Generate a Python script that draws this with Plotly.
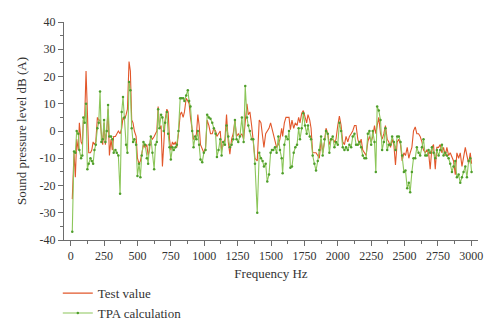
import plotly.graph_objects as go

freq = [12, 25, 35, 45, 57, 65, 78, 87, 95, 105, 115, 125, 135, 148, 158, 168, 178, 188, 200, 210,
        220, 230, 240, 250, 260, 270, 280, 290, 302, 312, 322, 335, 345, 357, 370, 382, 392, 402, 415, 425,
        437, 447, 457, 467, 477, 490, 500, 512, 522, 532, 545, 557, 570, 580, 590, 600, 612, 625, 635, 645,
        655, 665, 677, 687, 697, 707, 720, 730, 740, 750, 762, 772, 785, 795, 807, 820, 830, 842, 852, 865,
        877, 887, 897, 910, 920, 932, 942, 952, 962, 972, 985, 997, 1010, 1022, 1035, 1047, 1060, 1072, 1085, 1095,
        1107, 1120, 1130, 1142, 1155, 1167, 1180, 1192, 1205, 1217, 1230, 1242, 1255, 1267, 1282, 1295, 1307, 1320, 1330, 1342,
        1355, 1367, 1380, 1397, 1412, 1425, 1437, 1447, 1460, 1472, 1485, 1497, 1507, 1517, 1530, 1542, 1555, 1567, 1580, 1587,
        1600, 1612, 1625, 1635, 1645, 1657, 1670, 1682, 1695, 1707, 1717, 1730, 1742, 1755, 1767, 1777, 1790, 1800, 1812, 1825,
        1837, 1850, 1862, 1875, 1887, 1900, 1912, 1925, 1937, 1950, 1962, 1975, 1987, 2000, 2012, 2025, 2037, 2050, 2062, 2075,
        2087, 2100, 2112, 2125, 2137, 2150, 2162, 2175, 2187, 2200, 2212, 2225, 2237, 2250, 2262, 2275, 2285, 2295, 2307, 2320,
        2332, 2345, 2357, 2370, 2382, 2395, 2407, 2420, 2432, 2445, 2457, 2470, 2482, 2495, 2507, 2520, 2532, 2542, 2555, 2567,
        2580, 2592, 2605, 2617, 2630, 2642, 2655, 2667, 2680, 2692, 2705, 2717, 2730, 2742, 2755, 2767, 2780, 2792, 2805, 2817,
        2830, 2842, 2855, 2867, 2880, 2892, 2905, 2917, 2930, 2942, 2955, 2967, 2980, 2992, 3002]

test_value = [-25, -8, -17, -3, -7, 3, -4, -5, 4, 5, 22, 5, -8, -8, -7, -4, -5, -4, 5, 4,
              4, -1, -5, 3, -5, 0, 8, -9, -3, -7, -2, -2, -1, 0, -1, 1, 5, 4, 6, 8,
              25.5, 22, 4, 3, 0, -2, -10, -12, -11, -8, -5, -6, -5, -9, -7, -2, -3, -2, -1, 0,
              9, 1, 2, -13, -5, 4, 8, 7, -3, -7, -4, -5, -4, -6, -1, 6, 7, 5, 7, 12,
              11, 10, 5, 1, -3, -3, -1, 6, 2, -5, -7, -8, -6, 4, 2, -1, -1, 1, 0, -2,
              -1, 0, -7, -5, -3, 6, -4, -8.5, -3, -1, 4, -2, -1, -2, -1, -3, 5, 10, 6, 7,
              2, -4, -10, -11, 4, 3, -2, -6, -1, 0, 1, 3, 1, -1, -3, -6, -5, -3, 1, -2,
              3, 5, 5, 5, 0.5, 4, 1, 3, 2, 5, 3, 6.5, 7.5, 5, 3, 6, 4, 1, -8, -8,
              -8, -9, -10, -3, -8, -4, 1, -1, -5, -3, -3, -4, -3, 2, 5.5, 2, -4, -5, -2, -4,
              -2, -1, 0, 2, 2, -3, -5, -3, -7, -8, -9, -4, -2, -4, -2, 2, -1, 2, 5, -1,
              -3, -1, 2, -3, -4, -6, -3, -5, -12.5, -4, -3, -5, -11, -8, -9, -6, -10, -8, -6, 0,
              1.5, -1, -1, -2, -4, -7, -8, -7, -8, -14, -6, -5, -14, -6, -6, -5, -8, -6, -9, -6,
              -9, -8, -10, -11, -16, -8, -10, -8, -13, -10, -6, -9, -12, -8, -12]

tpa_calc = [-37, -7.5, -8, 0, -1, -7, -10, -9, 5, 3, 10, -14, -12, -10, -11, -12, -7, -5, 1, 3,
            14.5, -4, -3, 4, -4, 0, 9.5, -2, -2, -3, -8, -7, -8, -9, -23, 7, 12.5, 5, -5, -8,
            18, 15, 1, -4, -3, -5, -16.5, -12, -17, -9, -4, -5, -10, -12, -5, -2, -8, -14, -5, -4,
            8, 1, 6, 5, 0, 3, 7, -1, -6, -10.5, -6, -7, -6, -5, 0, 12, 12, 12, 11, 13,
            15, 11, 9, 0, -6, -2, -3, 0, -5, -10.5, -11.5, -8, -7, 6, 5, 4.5, 3, 1, -1, -9.5,
            -7, -3, -9, -4, -5, 2, -2, -6, -5, -3, 4, -3, -4, -2, 5, -4, 16.5, 5, 2, 0,
            -3, -3, -12, -30, -8, -10, -11, -13, -12, -18.5, -16, -8, -7, -7, -6, -8, -2, -7, -10, -15.5,
            -5, -2, -3, 0, -13.5, -13, -8, -6, -5, 1, -3, 1, 6.5, 2, -1, 2, -2, -3, -9, -12,
            -14.5, -11, -7, -2, -9, -3, 0, -1, -8, -3, -2, -6, -4, -5, 3, 0, -6, -7, -6, -7,
            -5, -6, -2, -1, -5, -5, -4, -6, -9, -10, -10, -1, 0, -5, 0, -4, -15, 9, 7.5, 4,
            -7, -4, 1, -7, -5, -5, -2, -4, -7, -2, -2, -4, -9, -15, -14.5, -21, -19, -22.5, -15, -10,
            -10, -6, -8, -9, -6, -3, -9, -9, -7, -8, -6, -8, -10, -7, -9, -7, -5, -9, -8, -9,
            -10, -12, -15, -13, -11, -17, -16, -19, -17, -15, -13, -17, -11, -10, -15]

y_ticks = [-40, -30, -20, -10, 0, 10, 20, 30, 40]
y_labels = ["-40", "-30", "-20", "-10", "0", "10", "20", "30", "40"]
x_ticks = [0, 250, 500, 750, 1000, 1250, 1500, 1750, 2000, 2250, 2500, 2750, 3000]

RED = "#e2572b"
GREEN_LINE = "#8cc65a"
GREEN_MARK = "#4f9e2c"
AXIS = "#6d6d6d"
FONT = "Liberation Serif"

fig = go.Figure()
fig.add_trace(go.Scatter(x=freq, y=test_value, mode="lines", name="Test value",
                         line=dict(color=RED, width=1.1)))
fig.add_trace(go.Scatter(x=freq, y=tpa_calc, mode="lines+markers", name="TPA calculation",
                         line=dict(color=GREEN_LINE, width=1.1),
                         marker=dict(color=GREEN_MARK, size=2.5)))

fig.update_layout(
    width=500, height=332,
    margin=dict(l=64, r=22, t=22, b=92, autoexpand=False),
    paper_bgcolor="white", plot_bgcolor="white",
    font=dict(family=FONT, size=12, color="#333333"),
    showlegend=True,
    legend=dict(x=-0.015, y=-0.175, xanchor="left", yanchor="top",
                font=dict(family=FONT, size=13, color="#333333"),
                itemwidth=30, tracegroupgap=0, bgcolor="rgba(0,0,0,0)"),
    xaxis=dict(range=[-50, 3050], tickvals=x_ticks, showline=True, linecolor=AXIS, linewidth=1,
               ticks="outside", ticklen=5, tickcolor=AXIS, showgrid=False, zeroline=False,
               minor=dict(dtick=125, tick0=0, ticks="outside", ticklen=3, tickcolor=AXIS),
               title=dict(text="Frequency Hz", font=dict(family=FONT, size=13), standoff=6),
               tickfont=dict(family=FONT, size=12, color="#333333")),
    yaxis=dict(range=[-40, 40], tickvals=y_ticks, ticktext=y_labels, showline=True, linecolor=AXIS,
               linewidth=1, ticks="outside", ticklen=5, tickcolor=AXIS, showgrid=False, zeroline=False,
               minor=dict(dtick=5, tick0=0, ticks="outside", ticklen=3, tickcolor=AXIS),
               title=dict(text="Sound pressure level dB (A)", font=dict(family=FONT, size=13), standoff=10),
               tickfont=dict(family=FONT, size=12, color="#333333")),
)

fig.write_html("out.html")
